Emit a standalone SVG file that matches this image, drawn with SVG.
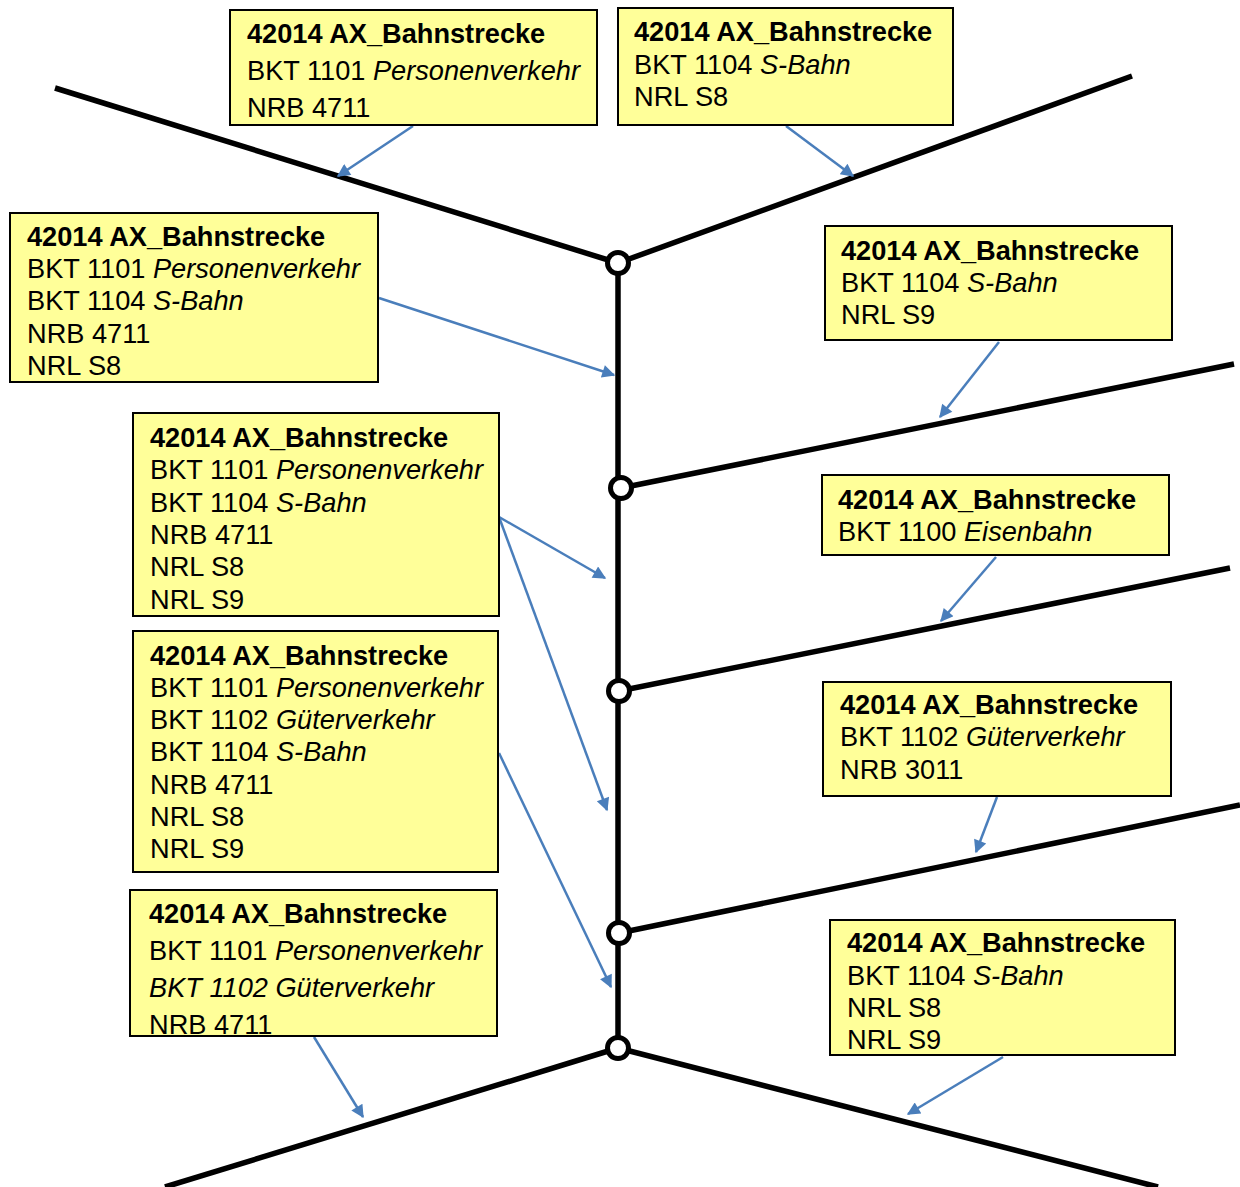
<svg xmlns="http://www.w3.org/2000/svg" width="1240" height="1187" viewBox="0 0 1240 1187">
<style>
.box{fill:#ffff99;stroke:#000;stroke-width:2}
.t{font-family:"Liberation Sans",Arial,sans-serif;font-size:27.2px;fill:#000}
.b{font-weight:bold}
.i{font-style:italic}
.track{stroke:#000;stroke-width:5.5;fill:none;stroke-linecap:butt}
.node{fill:#fff;stroke:#000;stroke-width:5}
.conn{stroke:#4a7ebb;stroke-width:2.5;fill:none;marker-end:url(#ah)}
</style>
<defs>
<marker id="ah" viewBox="0 0 10 10" refX="9" refY="5" markerWidth="17" markerHeight="13" markerUnits="userSpaceOnUse" orient="auto">
<path d="M0,0 L10,5 L0,10 z" fill="#4a7ebb"/>
</marker>
</defs>
<g id="tracks">
<line class="track" x1="55" y1="88" x2="618" y2="263"/>
<line class="track" x1="618" y1="263" x2="1132" y2="76"/>
<line class="track" x1="618" y1="263" x2="618" y2="1048"/>
<line class="track" x1="621" y1="488" x2="1234" y2="364"/>
<line class="track" x1="619" y1="691" x2="1230" y2="568"/>
<line class="track" x1="619" y1="933" x2="1240" y2="805"/>
<line class="track" x1="618" y1="1048" x2="165" y2="1187"/>
<line class="track" x1="618" y1="1048" x2="1158" y2="1187"/>
</g>
<g id="connectors">
<line class="conn" x1="413" y1="126" x2="338" y2="176"/>
<line class="conn" x1="786" y1="126" x2="853" y2="176"/>
<line class="conn" x1="379" y1="298" x2="614" y2="375"/>
<line class="conn" x1="499" y1="517" x2="605" y2="578"/>
<line class="conn" x1="499" y1="517" x2="607" y2="810"/>
<line class="conn" x1="499" y1="753" x2="611" y2="987"/>
<line class="conn" x1="999" y1="342" x2="940" y2="417"/>
<line class="conn" x1="996" y1="557" x2="941" y2="621"/>
<line class="conn" x1="997" y1="797" x2="976" y2="852"/>
<line class="conn" x1="314" y1="1037" x2="363" y2="1117"/>
<line class="conn" x1="1003" y1="1057" x2="908" y2="1114"/>
</g>
<g id="nodes">
<circle id="n1" class="node" cx="618" cy="263" r="10.5"/>
<circle id="n2" class="node" cx="621" cy="488" r="10.5"/>
<circle id="n3" class="node" cx="619" cy="691" r="10.5"/>
<circle id="n4" class="node" cx="619" cy="933" r="10.5"/>
<circle id="n5" class="node" cx="618" cy="1048" r="10.5"/>
</g>
<g id="box1">
<rect class="box" x="230" y="10" width="367" height="115"/>
<text class="t b" x="247" y="43">42014 AX_Bahnstrecke</text>
<text class="t" x="247" y="80">BKT 1101 <tspan class="i">Personenverkehr</tspan></text>
<text class="t" x="247" y="117">NRB 4711</text>
</g>
<g id="box2">
<rect class="box" x="618" y="8" width="335" height="117"/>
<text class="t b" x="634" y="41">42014 AX_Bahnstrecke</text>
<text class="t" x="634" y="74">BKT 1104 <tspan class="i">S-Bahn</tspan></text>
<text class="t" x="634" y="106">NRL S8</text>
</g>
<g id="box3">
<rect class="box" x="10" y="213" width="368" height="169"/>
<text class="t b" x="27" y="246">42014 AX_Bahnstrecke</text>
<text class="t" x="27" y="278">BKT 1101 <tspan class="i">Personenverkehr</tspan></text>
<text class="t" x="27" y="310">BKT 1104 <tspan class="i">S-Bahn</tspan></text>
<text class="t" x="27" y="343">NRB 4711</text>
<text class="t" x="27" y="375">NRL S8</text>
</g>
<g id="box4">
<rect class="box" x="825" y="226" width="347" height="114"/>
<text class="t b" x="841" y="260">42014 AX_Bahnstrecke</text>
<text class="t" x="841" y="292">BKT 1104 <tspan class="i">S-Bahn</tspan></text>
<text class="t" x="841" y="324">NRL S9</text>
</g>
<g id="box5">
<rect class="box" x="133" y="413" width="366" height="203"/>
<text class="t b" x="150" y="447">42014 AX_Bahnstrecke</text>
<text class="t" x="150" y="479">BKT 1101 <tspan class="i">Personenverkehr</tspan></text>
<text class="t" x="150" y="512">BKT 1104 <tspan class="i">S-Bahn</tspan></text>
<text class="t" x="150" y="544">NRB 4711</text>
<text class="t" x="150" y="576">NRL S8</text>
<text class="t" x="150" y="609">NRL S9</text>
</g>
<g id="box6">
<rect class="box" x="822" y="475" width="347" height="80"/>
<text class="t b" x="838" y="509">42014 AX_Bahnstrecke</text>
<text class="t" x="838" y="541">BKT 1100 <tspan class="i">Eisenbahn</tspan></text>
</g>
<g id="box7">
<rect class="box" x="133" y="631" width="365" height="241"/>
<text class="t b" x="150" y="665">42014 AX_Bahnstrecke</text>
<text class="t" x="150" y="697">BKT 1101 <tspan class="i">Personenverkehr</tspan></text>
<text class="t" x="150" y="729">BKT 1102 <tspan class="i">Güterverkehr</tspan></text>
<text class="t" x="150" y="761">BKT 1104 <tspan class="i">S-Bahn</tspan></text>
<text class="t" x="150" y="794">NRB 4711</text>
<text class="t" x="150" y="826">NRL S8</text>
<text class="t" x="150" y="858">NRL S9</text>
</g>
<g id="box8">
<rect class="box" x="823" y="682" width="348" height="114"/>
<text class="t b" x="840" y="714">42014 AX_Bahnstrecke</text>
<text class="t" x="840" y="746">BKT 1102 <tspan class="i">Güterverkehr</tspan></text>
<text class="t" x="840" y="779">NRB 3011</text>
</g>
<g id="box9">
<rect class="box" x="130" y="890" width="367" height="146"/>
<text class="t b" x="149" y="923">42014 AX_Bahnstrecke</text>
<text class="t" x="149" y="960">BKT 1101 <tspan class="i">Personenverkehr</tspan></text>
<text class="t i" x="149" y="997">BKT 1102 Güterverkehr</text>
<text class="t" x="149" y="1034">NRB 4711</text>
</g>
<g id="box10">
<rect class="box" x="830" y="920" width="345" height="135"/>
<text class="t b" x="847" y="952">42014 AX_Bahnstrecke</text>
<text class="t" x="847" y="985">BKT 1104 <tspan class="i">S-Bahn</tspan></text>
<text class="t" x="847" y="1017">NRL S8</text>
<text class="t" x="847" y="1049">NRL S9</text>
</g>
</svg>
